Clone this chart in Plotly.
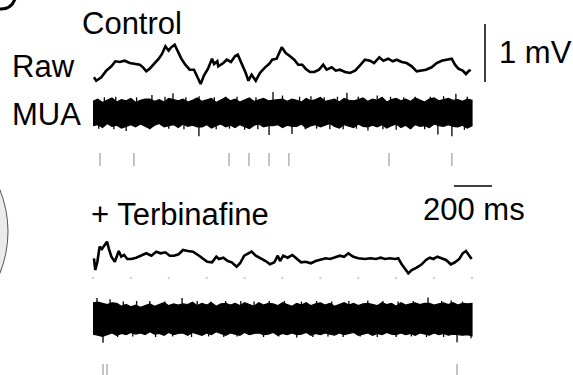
import plotly.graph_objects as go

# ---------------- data ----------------
# Control raw trace: time (ms) and voltage (mV, relative to trace baseline)
ctrl_raw_t = [5, 17, 44, 70, 97, 118, 141, 167, 194, 220, 247, 264, 281, 299, 326, 347, 364, 382, 399, 413,
              431, 449, 466, 487, 510, 533, 550, 568, 586, 607, 628, 639, 656, 661, 688, 706, 728, 749, 764, 785,
              806, 820, 837, 859, 881, 908, 929, 946, 969, 996, 1017, 1040, 1062, 1083, 1104, 1122, 1145, 1168, 1193, 1215,
              1233, 1260, 1281, 1303, 1330, 1356, 1383, 1409, 1435, 1462, 1483, 1511, 1532, 1558, 1582, 1603, 1629, 1655, 1682, 1708,
              1729, 1757, 1787, 1814, 1840, 1866, 1893, 1910, 1928, 1951, 1968, 1981, 1993]
ctrl_raw_mv = [-0.212, -0.271, -0.212, -0.098, -0.022, 0.064, 0.052, 0.074, 0.034, 0.017, 0.005, -0.040, -0.109, -0.064, 0.034, 0.109, 0.190, 0.322, 0.247, 0.305,
               0.350, 0.236, 0.109, 0.005, -0.081, -0.081, -0.195, -0.328, -0.178, -0.064, 0.109, 0.017, 0.064, -0.022, 0.034, 0.091, 0.052, 0.150, 0.178, 0.034,
               -0.138, -0.271, -0.167, -0.271, -0.138, -0.040, 0.017, 0.091, 0.109, 0.305, 0.207, 0.150, 0.091, 0.005, 0.005, -0.064, -0.121, -0.121, -0.081, 0.005,
               -0.081, -0.040, -0.098, -0.081, -0.121, -0.138, -0.098, -0.005, 0.091, 0.074, 0.034, 0.133, 0.074, 0.109, 0.064, 0.091, 0.052, 0.034, -0.022, -0.109,
               -0.098, -0.081, -0.040, 0.034, 0.074, 0.091, 0.109, 0.005, -0.064, -0.098, -0.155, -0.109, -0.081]

# Terbinafine raw trace
terb_raw_t = [5, 12, 23, 35, 47, 62, 74, 83, 97, 115, 136, 149, 164, 181, 202, 228, 255, 281, 308, 334,
              357, 382, 405, 427, 452, 475, 501, 528, 554, 580, 603, 628, 651, 665, 688, 711, 732, 758, 776, 798,
              820, 837, 859, 887, 911, 934, 957, 975, 987, 1004, 1027, 1052, 1075, 1098, 1122, 1150, 1175, 1203, 1228, 1251,
              1277, 1303, 1325, 1347, 1374, 1400, 1435, 1465, 1493, 1518, 1541, 1567, 1594, 1611, 1629, 1646, 1664, 1682, 1708, 1735,
              1757, 1778, 1796, 1817, 1840, 1863, 1888, 1910, 1933, 1951, 1968, 1986, 1998]
terb_raw_mv = [-0.005, -0.207, -0.064, 0.195, 0.155, 0.224, 0.281, 0.167, 0.022, -0.064, 0.121, 0.022, 0.052, -0.017, -0.017, 0.005, 0.040, 0.081, 0.040, 0.109,
               0.081, 0.098, 0.040, 0.040, 0.064, 0.138, 0.121, 0.109, 0.052, -0.005, -0.064, -0.074, 0.022, -0.017, 0.005, -0.052, -0.074, -0.150, -0.091, 0.040,
               0.081, 0.109, 0.040, -0.005, -0.052, -0.109, -0.074, 0.040, -0.052, 0.040, 0.005, 0.052, -0.017, -0.074, -0.064, -0.091, -0.052, -0.034, -0.005, -0.017,
               0.005, 0.040, 0.022, 0.081, 0.022, -0.005, -0.017, -0.005, -0.017, 0.005, -0.017, -0.005, -0.017, -0.005, -0.109, -0.178, -0.264, -0.207, -0.167, -0.109,
               -0.034, 0.005, -0.017, 0.022, -0.005, -0.034, -0.109, -0.074, -0.017, 0.081, 0.121, 0.040, -0.017]

# MUA envelopes (mV), sampled every 25 ms from 0 to 2000 ms
mua_t = list(range(0, 2001, 25))
ctrl_mua_top = [0.20, 0.24, 0.18, 0.22, 0.26, 0.19, 0.23, 0.21, 0.25, 0.18,
                0.22, 0.24, 0.24, 0.20, 0.23, 0.19, 0.25, 0.23, 0.21, 0.24,
                0.19, 0.22, 0.26, 0.20, 0.23, 0.25, 0.18, 0.22, 0.27, 0.21,
                0.24, 0.19, 0.23, 0.26, 0.20, 0.22, 0.25, 0.21, 0.22, 0.23,
                0.24, 0.20, 0.24, 0.22, 0.19, 0.25, 0.21, 0.23, 0.27, 0.20,
                0.22, 0.24, 0.19, 0.25, 0.22, 0.21, 0.23, 0.26, 0.20, 0.24,
                0.22, 0.27, 0.19, 0.23, 0.25, 0.21, 0.24, 0.20, 0.26, 0.22,
                0.19, 0.24, 0.26, 0.21, 0.23, 0.25, 0.22, 0.23, 0.20, 0.24, 0.22]
ctrl_mua_bot = [-0.22, -0.20, -0.25, -0.18, -0.23, -0.21, -0.26, -0.23, -0.20, -0.24,
                -0.19, -0.23, -0.27, -0.21, -0.18, -0.24, -0.22, -0.20, -0.25, -0.19,
                -0.23, -0.21, -0.24, -0.24, -0.20, -0.26, -0.22, -0.19, -0.24, -0.21,
                -0.25, -0.20, -0.23, -0.27, -0.21, -0.19, -0.24, -0.22, -0.22, -0.20,
                -0.25, -0.21, -0.23, -0.23, -0.19, -0.26, -0.22, -0.20, -0.24, -0.21,
                -0.18, -0.23, -0.26, -0.20, -0.22, -0.25, -0.19, -0.23, -0.24, -0.21,
                -0.24, -0.20, -0.26, -0.22, -0.19, -0.25, -0.21, -0.27, -0.20, -0.23,
                -0.22, -0.25, -0.19, -0.22, -0.23, -0.20, -0.23, -0.24, -0.21, -0.26, -0.22]
terb_mua_top = [0.28, 0.29, 0.27, 0.25, 0.28, 0.27, 0.22, 0.25, 0.21, 0.24,
                0.20, 0.23, 0.26, 0.22, 0.25, 0.28, 0.23, 0.26, 0.24, 0.26,
                0.25, 0.29, 0.23, 0.27, 0.24, 0.28, 0.22, 0.26, 0.27, 0.24,
                0.27, 0.23, 0.28, 0.25, 0.22, 0.28, 0.24, 0.27, 0.26, 0.23,
                0.28, 0.25, 0.22, 0.27, 0.24, 0.28, 0.23, 0.26, 0.28, 0.24,
                0.27, 0.22, 0.25, 0.28, 0.24, 0.27, 0.23, 0.26, 0.27, 0.25,
                0.23, 0.28, 0.25, 0.27, 0.22, 0.28, 0.24, 0.26, 0.28, 0.25,
                0.27, 0.27, 0.24, 0.26, 0.28, 0.25, 0.28, 0.24, 0.27, 0.26, 0.27]
terb_mua_bot = [-0.26, -0.28, -0.30, -0.27, -0.24, -0.28, -0.25, -0.27, -0.23, -0.26,
                -0.24, -0.27, -0.22, -0.26, -0.25, -0.28, -0.23, -0.27, -0.25, -0.24,
                -0.28, -0.23, -0.26, -0.28, -0.24, -0.27, -0.22, -0.25, -0.28, -0.24,
                -0.26, -0.28, -0.23, -0.27, -0.25, -0.24, -0.27, -0.26, -0.23, -0.28,
                -0.25, -0.27, -0.24, -0.27, -0.26, -0.23, -0.28, -0.25, -0.27, -0.24,
                -0.26, -0.28, -0.24, -0.27, -0.25, -0.23, -0.28, -0.26, -0.24, -0.28,
                -0.25, -0.27, -0.23, -0.26, -0.27, -0.24, -0.27, -0.25, -0.28, -0.24,
                -0.26, -0.28, -0.24, -0.27, -0.25, -0.28, -0.26, -0.27, -0.28, -0.27, -0.29]

# MUA excursions beyond the envelope: (time ms, peak mV)
ctrl_mua_peaks = [(60, 0.27), (120, 0.28), (230, 0.27), (311, 0.31), (380, 0.28), (422, 0.34), (490, 0.27),
                  (560, 0.29), (640, 0.27), (700, 0.28), (760, 0.28), (860, 0.27), (950, 0.36), (1000, 0.30),
                  (1090, 0.28), (1150, 0.29), (1220, 0.27), (1290, 0.28), (1340, 0.35), (1400, 0.28),
                  (1500, 0.30), (1570, 0.28), (1640, 0.27), (1700, 0.28), (1780, 0.28), (1850, 0.29),
                  (1915, 0.33), (1975, 0.28),
                  (30, -0.27), (110, -0.28), (175, -0.31), (300, -0.28), (400, -0.27), (480, -0.28),
                  (559, -0.40), (650, -0.28), (720, -0.27), (800, -0.29), (870, -0.28), (929, -0.38),
                  (1050, -0.36), (1120, -0.28), (1180, -0.27), (1250, -0.28), (1320, -0.28), (1390, -0.27),
                  (1451, -0.30), (1530, -0.28), (1600, -0.29), (1680, -0.27), (1750, -0.28), (1820, -0.37),
                  (1894, -0.40), (1960, -0.29)]
terb_mua_peaks = [(21, 0.36), (90, 0.34), (160, 0.30), (230, 0.31), (300, 0.31), (380, 0.30), (470, 0.36),
                  (550, 0.31), (620, 0.30), (700, 0.31), (780, 0.31), (850, 0.30), (930, 0.31), (1010, 0.31),
                  (1100, 0.30), (1180, 0.31), (1260, 0.30), (1350, 0.31), (1450, 0.32), (1530, 0.31),
                  (1610, 0.30), (1690, 0.31), (1768, 0.37), (1840, 0.31), (1890, 0.32), (1950, 0.30),
                  (53, -0.41), (130, -0.31), (210, -0.30), (330, -0.31), (420, -0.30), (520, -0.31),
                  (610, -0.30), (690, -0.31), (760, -0.30), (900, -0.31), (980, -0.30), (1075, -0.32),
                  (1160, -0.31), (1240, -0.30), (1320, -0.31), (1410, -0.30), (1500, -0.31), (1600, -0.31),
                  (1680, -0.30), (1760, -0.31), (1850, -0.31), (1921, -0.40), (1995, -0.33)]

# Detected spike times (ms)
ctrl_spikes = [37, 216, 718, 823, 929, 1034, 1562, 1894]
terb_spikes = [53, 74, 1921]
# faint time markers under the terbinafine raw trace (ms)
time_marks = [0, 200, 400, 600, 800, 1000, 1200, 1400, 1600, 1800, 2000]

# ---------------- geometry / style ----------------
W, H = 573, 375
MS_PER_PX = 2000 / 379
PX_PER_MV = 58.0
X0_PX = 93


def row(px):
    return -px / PX_PER_MV


CTRL_RAW_BASE = row(65)
CTRL_MUA_BASE = row(113)
CTRL_SPK = (row(153), row(166))
TERB_RAW_BASE = row(258)
TERB_MUA_BASE = row(319)
TERB_SPK = (row(364), row(377))
MARK_ROW = row(278)

FONT = "Arial, Liberation Sans, Helvetica, sans-serif"

fig = go.Figure()

# raw traces
for t, v, base in [(ctrl_raw_t, ctrl_raw_mv, CTRL_RAW_BASE), (terb_raw_t, terb_raw_mv, TERB_RAW_BASE)]:
    fig.add_trace(go.Scatter(x=t, y=[base + a for a in v], mode="lines",
                             line=dict(color="black", width=2.6), hoverinfo="skip"))

# MUA bands
for top, bot, peaks, base in [(ctrl_mua_top, ctrl_mua_bot, ctrl_mua_peaks, CTRL_MUA_BASE),
                              (terb_mua_top, terb_mua_bot, terb_mua_peaks, TERB_MUA_BASE)]:
    xs = mua_t + mua_t[::-1]
    ys = [base + a for a in top] + [base + a for a in bot[::-1]]
    fig.add_trace(go.Scatter(x=xs, y=ys, mode="lines", fill="toself", fillcolor="black",
                             line=dict(color="black", width=1.2), hoverinfo="skip"))
    px_, py_ = [], []
    for t, a in peaks:
        px_ += [t, t, None]
        py_ += [base, base + a, None]
    fig.add_trace(go.Scatter(x=px_, y=py_, mode="lines", line=dict(color="black", width=1.3),
                             hoverinfo="skip"))

# spike rasters
for spikes, (y0, y1) in [(ctrl_spikes, CTRL_SPK), (terb_spikes, TERB_SPK)]:
    xs, ys = [], []
    for s in spikes:
        xs += [s, s, None]
        ys += [y0, y1, None]
    fig.add_trace(go.Scatter(x=xs, y=ys, mode="lines", line=dict(color="#8a8a8a", width=1),
                             hoverinfo="skip"))

# faint markers
fig.add_trace(go.Scatter(x=time_marks, y=[MARK_ROW] * len(time_marks), mode="markers",
                         marker=dict(color="#d4d4d4", size=2.5), hoverinfo="skip"))

# scale bars
t_vbar = (485 - X0_PX) * MS_PER_PX
fig.add_shape(type="line", x0=t_vbar, x1=t_vbar, y0=row(24), y1=row(24) - 1.0,
              line=dict(color="black", width=1.5))
t_h0 = (454 - X0_PX) * MS_PER_PX
fig.add_shape(type="line", x0=t_h0, x1=t_h0 + 200, y0=row(186), y1=row(186),
              line=dict(color="black", width=1.5))

# left-side decorations (partial circle and cut-off panel letter)
cx, cy, r = -103.6, 231.5, 111.6
fig.add_shape(type="circle", xref="paper", yref="paper",
              x0=(cx - r) / W, x1=(cx + r) / W, y0=1 - (cy + r) / H, y1=1 - (cy - r) / H,
              fillcolor="#ebebeb", line=dict(color="#555555", width=1))
fig.add_shape(type="path", xref="paper", yref="paper",
              path=f"M {-1/W},{1-9/H} Q {11/W},{1-10/H} {15/W},{1+1/H}",
              line=dict(color="black", width=3))


def label(text, left_px, capmid_px, size=31):
    fig.add_annotation(x=left_px / W, y=1 - capmid_px / H, xref="paper", yref="paper",
                       xanchor="left", yanchor="middle", showarrow=False, text=text,
                       font=dict(family=FONT, size=size, color="black"))


label("Control", 80, 23.5)
label("Raw", 10, 67)
label("MUA", 10, 114)
label("1 mV", 497, 53)
label("200 ms", 421, 209)
label("+ Terbinafine", 89, 214)

fig.update_layout(
    width=W, height=H, margin=dict(l=0, r=0, t=0, b=0),
    paper_bgcolor="white", plot_bgcolor="white", showlegend=False,
    xaxis=dict(visible=False, range=[-X0_PX * MS_PER_PX, (W - X0_PX) * MS_PER_PX]),
    yaxis=dict(visible=False, range=[-H / PX_PER_MV, 0]),
)

fig.write_html("out.html")
